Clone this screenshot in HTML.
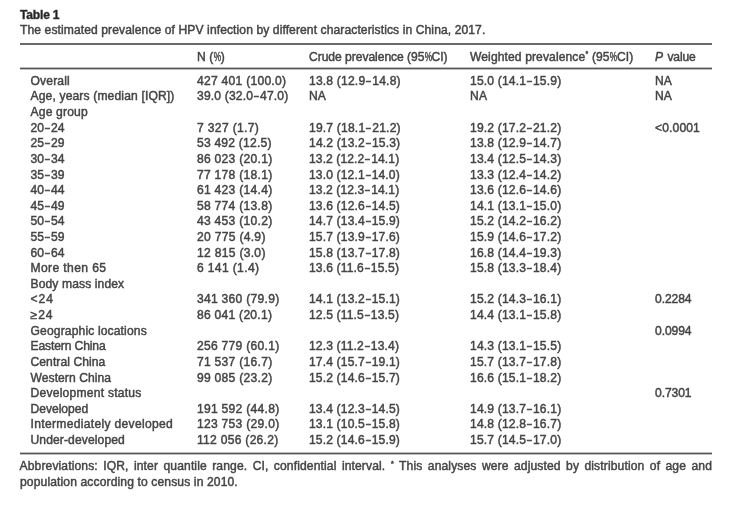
<!DOCTYPE html>
<html><head><meta charset="utf-8"><style>
html,body{margin:0;padding:0;background:#fff;}
body{width:733px;height:507px;position:relative;overflow:hidden;font-family:"Liberation Sans",sans-serif;font-size:12.1px;color:#444444;}
#w{position:absolute;left:0;top:0;width:733px;height:507px;filter:grayscale(1) blur(0.4px);}
.t{position:absolute;white-space:nowrap;line-height:16px;-webkit-text-stroke:0.45px #444444;}
.d{display:inline-block;transform:scaleX(0.72)}
.pc{display:inline-block;transform:scaleX(0.68);margin:0 -1.8px}
.ast{font-size:7px;position:relative;top:-4.5px;margin-left:0.3px}
.r{position:absolute;left:19.5px;width:692.5px;background:#6a6a6a;}
</style></head><body><div id="w">

<div class="t" id="table1" style="left:20px;top:6.91px;letter-spacing:-0.200px;word-spacing:0.000px;font-weight:bold;color:#222;">Table 1</div>
<div class="t" id="caption" style="left:20px;top:22.01px;letter-spacing:0.091px;word-spacing:0.000px;">The estimated prevalence of HPV infection by different characteristics in China, 2017.</div>
<div class="t" id="h1" style="left:197px;top:48.71px;letter-spacing:0.100px;word-spacing:0.000px;">N (<span class="pc">%</span>)</div>
<div class="t" id="h2" style="left:309px;top:48.71px;letter-spacing:-0.043px;word-spacing:0.000px;">Crude prevalence (95<span class="pc">%</span>CI)</div>
<div class="t" id="h3" style="left:470px;top:48.71px;letter-spacing:0.100px;word-spacing:0.000px;">Weighted prevalence<span class="ast">*</span> (95<span class="pc">%</span>CI)</div>
<div class="t" id="h4" style="left:655px;top:48.71px;letter-spacing:-0.120px;word-spacing:1.200px;"><i>P</i> value</div>
<div class="t" id="r0c0" style="left:30.5px;top:72.81px;letter-spacing:0.150px;word-spacing:0.000px;">Overall</div>
<div class="t" id="r0c1" style="left:197px;top:72.81px;letter-spacing:0.257px;word-spacing:0.000px;">427 401 (100.0)</div>
<div class="t" id="r0c2" style="left:309px;top:72.81px;letter-spacing:0.187px;word-spacing:0.000px;">13.8 (12.9<span class="d">–</span>14.8)</div>
<div class="t" id="r0c3" style="left:470px;top:72.81px;letter-spacing:0.160px;word-spacing:0.000px;">15.0 (14.1<span class="d">–</span>15.9)</div>
<div class="t" id="r0c4" style="left:655px;top:72.81px;letter-spacing:0.027px;word-spacing:0.000px;">NA</div>
<div class="t" id="r1c0" style="left:30.5px;top:88.43px;letter-spacing:0.142px;word-spacing:0.000px;">Age, years (median [IQR])</div>
<div class="t" id="r1c1" style="left:197px;top:88.43px;letter-spacing:0.167px;word-spacing:0.000px;">39.0 (32.0<span class="d">–</span>47.0)</div>
<div class="t" id="r1c2" style="left:309px;top:88.43px;letter-spacing:0.141px;word-spacing:0.000px;">NA</div>
<div class="t" id="r1c3" style="left:470px;top:88.43px;letter-spacing:0.160px;word-spacing:0.000px;">NA</div>
<div class="t" id="r1c4" style="left:655px;top:88.43px;letter-spacing:0.027px;word-spacing:0.000px;">NA</div>
<div class="t" id="r2c0" style="left:30.5px;top:104.05px;letter-spacing:0.175px;word-spacing:0.000px;">Age group</div>
<div class="t" id="r3c0" style="left:30.5px;top:119.67px;letter-spacing:0.100px;word-spacing:0.000px;">20<span class="d">–</span>24</div>
<div class="t" id="r3c1" style="left:197px;top:119.67px;letter-spacing:0.340px;word-spacing:0.000px;">7 327 (1.7)</div>
<div class="t" id="r3c2" style="left:309px;top:119.67px;letter-spacing:0.187px;word-spacing:0.000px;">19.7 (18.1<span class="d">–</span>21.2)</div>
<div class="t" id="r3c3" style="left:470px;top:119.67px;letter-spacing:0.160px;word-spacing:0.000px;">19.2 (17.2<span class="d">–</span>21.2)</div>
<div class="t" id="r3c4" style="left:655px;top:119.67px;letter-spacing:0.133px;word-spacing:0.000px;">&lt;0.0001</div>
<div class="t" id="r4c0" style="left:30.5px;top:135.29px;letter-spacing:0.100px;word-spacing:0.000px;">25<span class="d">–</span>29</div>
<div class="t" id="r4c1" style="left:197px;top:135.29px;letter-spacing:0.208px;word-spacing:0.000px;">53 492 (12.5)</div>
<div class="t" id="r4c2" style="left:309px;top:135.29px;letter-spacing:0.153px;word-spacing:0.000px;">14.2 (13.2<span class="d">–</span>15.3)</div>
<div class="t" id="r4c3" style="left:470px;top:135.29px;letter-spacing:0.160px;word-spacing:0.000px;">13.8 (12.9<span class="d">–</span>14.7)</div>
<div class="t" id="r5c0" style="left:30.5px;top:150.91px;letter-spacing:0.100px;word-spacing:0.000px;">30<span class="d">–</span>34</div>
<div class="t" id="r5c1" style="left:197px;top:150.91px;letter-spacing:0.269px;word-spacing:0.000px;">86 023 (20.1)</div>
<div class="t" id="r5c2" style="left:309px;top:150.91px;letter-spacing:0.093px;word-spacing:0.000px;">13.2 (12.2<span class="d">–</span>14.1)</div>
<div class="t" id="r5c3" style="left:470px;top:150.91px;letter-spacing:0.160px;word-spacing:0.000px;">13.4 (12.5<span class="d">–</span>14.3)</div>
<div class="t" id="r6c0" style="left:30.5px;top:166.53px;letter-spacing:0.100px;word-spacing:0.000px;">35<span class="d">–</span>39</div>
<div class="t" id="r6c1" style="left:197px;top:166.53px;letter-spacing:0.269px;word-spacing:0.000px;">77 178 (18.1)</div>
<div class="t" id="r6c2" style="left:309px;top:166.53px;letter-spacing:0.133px;word-spacing:0.000px;">13.0 (12.1<span class="d">–</span>14.0)</div>
<div class="t" id="r6c3" style="left:470px;top:166.53px;letter-spacing:0.160px;word-spacing:0.000px;">13.3 (12.4<span class="d">–</span>14.2)</div>
<div class="t" id="r7c0" style="left:30.5px;top:182.15px;letter-spacing:0.100px;word-spacing:0.000px;">40<span class="d">–</span>44</div>
<div class="t" id="r7c1" style="left:197px;top:182.15px;letter-spacing:0.269px;word-spacing:0.000px;">61 423 (14.4)</div>
<div class="t" id="r7c2" style="left:309px;top:182.15px;letter-spacing:0.093px;word-spacing:0.000px;">13.2 (12.3<span class="d">–</span>14.1)</div>
<div class="t" id="r7c3" style="left:470px;top:182.15px;letter-spacing:0.160px;word-spacing:0.000px;">13.6 (12.6<span class="d">–</span>14.6)</div>
<div class="t" id="r8c0" style="left:30.5px;top:197.77px;letter-spacing:0.100px;word-spacing:0.000px;">45<span class="d">–</span>49</div>
<div class="t" id="r8c1" style="left:197px;top:197.77px;letter-spacing:0.269px;word-spacing:0.000px;">58 774 (13.8)</div>
<div class="t" id="r8c2" style="left:309px;top:197.77px;letter-spacing:0.141px;word-spacing:0.000px;">13.6 (12.6<span class="d">–</span>14.5)</div>
<div class="t" id="r8c3" style="left:470px;top:197.77px;letter-spacing:0.160px;word-spacing:0.000px;">14.1 (13.1<span class="d">–</span>15.0)</div>
<div class="t" id="r9c0" style="left:30.5px;top:213.39px;letter-spacing:0.100px;word-spacing:0.000px;">50<span class="d">–</span>54</div>
<div class="t" id="r9c1" style="left:197px;top:213.39px;letter-spacing:0.269px;word-spacing:0.000px;">43 453 (10.2)</div>
<div class="t" id="r9c2" style="left:309px;top:213.39px;letter-spacing:0.141px;word-spacing:0.000px;">14.7 (13.4<span class="d">–</span>15.9)</div>
<div class="t" id="r9c3" style="left:470px;top:213.39px;letter-spacing:0.160px;word-spacing:0.000px;">15.2 (14.2<span class="d">–</span>16.2)</div>
<div class="t" id="r10c0" style="left:30.5px;top:229.01px;letter-spacing:0.100px;word-spacing:0.000px;">55<span class="d">–</span>59</div>
<div class="t" id="r10c1" style="left:197px;top:229.01px;letter-spacing:0.291px;word-spacing:0.000px;">20 775 (4.9)</div>
<div class="t" id="r10c2" style="left:309px;top:229.01px;letter-spacing:0.141px;word-spacing:0.000px;">15.7 (13.9<span class="d">–</span>17.6)</div>
<div class="t" id="r10c3" style="left:470px;top:229.01px;letter-spacing:0.160px;word-spacing:0.000px;">15.9 (14.6<span class="d">–</span>17.2)</div>
<div class="t" id="r11c0" style="left:30.5px;top:244.63px;letter-spacing:0.100px;word-spacing:0.000px;">60<span class="d">–</span>64</div>
<div class="t" id="r11c1" style="left:197px;top:244.63px;letter-spacing:0.291px;word-spacing:0.000px;">12 815 (3.0)</div>
<div class="t" id="r11c2" style="left:309px;top:244.63px;letter-spacing:0.141px;word-spacing:0.000px;">15.8 (13.7<span class="d">–</span>17.8)</div>
<div class="t" id="r11c3" style="left:470px;top:244.63px;letter-spacing:0.160px;word-spacing:0.000px;">16.8 (14.4<span class="d">–</span>19.3)</div>
<div class="t" id="r12c0" style="left:30.5px;top:260.25px;letter-spacing:0.382px;word-spacing:0.000px;">More then 65</div>
<div class="t" id="r12c1" style="left:197px;top:260.25px;letter-spacing:0.350px;word-spacing:0.000px;">6 141 (1.4)</div>
<div class="t" id="r12c2" style="left:309px;top:260.25px;letter-spacing:0.141px;word-spacing:0.000px;">13.6 (11.6<span class="d">–</span>15.5)</div>
<div class="t" id="r12c3" style="left:470px;top:260.25px;letter-spacing:0.160px;word-spacing:0.000px;">15.8 (13.3<span class="d">–</span>18.4)</div>
<div class="t" id="r13c0" style="left:30.5px;top:275.87px;letter-spacing:0.107px;word-spacing:0.000px;">Body mass index</div>
<div class="t" id="r14c0" style="left:30.5px;top:291.49px;letter-spacing:1.000px;word-spacing:0.000px;">&lt;24</div>
<div class="t" id="r14c1" style="left:197px;top:291.49px;letter-spacing:0.269px;word-spacing:0.000px;">341 360 (79.9)</div>
<div class="t" id="r14c2" style="left:309px;top:291.49px;letter-spacing:0.141px;word-spacing:0.000px;">14.1 (13.2<span class="d">–</span>15.1)</div>
<div class="t" id="r14c3" style="left:470px;top:291.49px;letter-spacing:0.160px;word-spacing:0.000px;">15.2 (14.3<span class="d">–</span>16.1)</div>
<div class="t" id="r14c4" style="left:655px;top:291.49px;letter-spacing:-0.080px;word-spacing:0.000px;">0.2284</div>
<div class="t" id="r15c0" style="left:30.5px;top:307.11px;letter-spacing:1.000px;word-spacing:0.000px;">≥24</div>
<div class="t" id="r15c1" style="left:197px;top:307.11px;letter-spacing:0.250px;word-spacing:0.000px;">86 041 (20.1)</div>
<div class="t" id="r15c2" style="left:309px;top:307.11px;letter-spacing:0.141px;word-spacing:0.000px;">12.5 (11.5<span class="d">–</span>13.5)</div>
<div class="t" id="r15c3" style="left:470px;top:307.11px;letter-spacing:0.160px;word-spacing:0.000px;">14.4 (13.1<span class="d">–</span>15.8)</div>
<div class="t" id="r16c0" style="left:30.5px;top:322.73px;letter-spacing:0.137px;word-spacing:0.000px;">Geographic locations</div>
<div class="t" id="r16c4" style="left:655px;top:322.73px;letter-spacing:-0.080px;word-spacing:0.000px;">0.0994</div>
<div class="t" id="r17c0" style="left:30.5px;top:338.35px;letter-spacing:-0.125px;word-spacing:0.000px;">Eastern China</div>
<div class="t" id="r17c1" style="left:197px;top:338.35px;letter-spacing:0.269px;word-spacing:0.000px;">256 779 (60.1)</div>
<div class="t" id="r17c2" style="left:309px;top:338.35px;letter-spacing:0.141px;word-spacing:0.000px;">12.3 (11.2<span class="d">–</span>13.4)</div>
<div class="t" id="r17c3" style="left:470px;top:338.35px;letter-spacing:0.160px;word-spacing:0.000px;">14.3 (13.1<span class="d">–</span>15.5)</div>
<div class="t" id="r18c0" style="left:30.5px;top:353.97px;letter-spacing:0.067px;word-spacing:0.000px;">Central China</div>
<div class="t" id="r18c1" style="left:197px;top:353.97px;letter-spacing:0.269px;word-spacing:0.000px;">71 537 (16.7)</div>
<div class="t" id="r18c2" style="left:309px;top:353.97px;letter-spacing:0.141px;word-spacing:0.000px;">17.4 (15.7<span class="d">–</span>19.1)</div>
<div class="t" id="r18c3" style="left:470px;top:353.97px;letter-spacing:0.160px;word-spacing:0.000px;">15.7 (13.7<span class="d">–</span>17.8)</div>
<div class="t" id="r19c0" style="left:30.5px;top:369.59px;letter-spacing:0.058px;word-spacing:0.000px;">Western China</div>
<div class="t" id="r19c1" style="left:197px;top:369.59px;letter-spacing:0.269px;word-spacing:0.000px;">99 085 (23.2)</div>
<div class="t" id="r19c2" style="left:309px;top:369.59px;letter-spacing:0.141px;word-spacing:0.000px;">15.2 (14.6<span class="d">–</span>15.7)</div>
<div class="t" id="r19c3" style="left:470px;top:369.59px;letter-spacing:0.160px;word-spacing:0.000px;">16.6 (15.1<span class="d">–</span>18.2)</div>
<div class="t" id="r20c0" style="left:30.5px;top:385.21px;letter-spacing:0.235px;word-spacing:0.000px;">Development status</div>
<div class="t" id="r20c4" style="left:655px;top:385.21px;letter-spacing:-0.080px;word-spacing:0.000px;">0.7301</div>
<div class="t" id="r21c0" style="left:30.5px;top:400.83px;letter-spacing:-0.025px;word-spacing:0.000px;">Developed</div>
<div class="t" id="r21c1" style="left:197px;top:400.83px;letter-spacing:0.269px;word-spacing:0.000px;">191 592 (44.8)</div>
<div class="t" id="r21c2" style="left:309px;top:400.83px;letter-spacing:0.141px;word-spacing:0.000px;">13.4 (12.3<span class="d">–</span>14.5)</div>
<div class="t" id="r21c3" style="left:470px;top:400.83px;letter-spacing:0.160px;word-spacing:0.000px;">14.9 (13.7<span class="d">–</span>16.1)</div>
<div class="t" id="r22c0" style="left:30.5px;top:416.45px;letter-spacing:0.313px;word-spacing:0.000px;">Intermediately developed</div>
<div class="t" id="r22c1" style="left:197px;top:416.45px;letter-spacing:0.269px;word-spacing:0.000px;">123 753 (29.0)</div>
<div class="t" id="r22c2" style="left:309px;top:416.45px;letter-spacing:0.141px;word-spacing:0.000px;">13.1 (10.5<span class="d">–</span>15.8)</div>
<div class="t" id="r22c3" style="left:470px;top:416.45px;letter-spacing:0.160px;word-spacing:0.000px;">14.8 (12.8<span class="d">–</span>16.7)</div>
<div class="t" id="r23c0" style="left:30.5px;top:432.07px;letter-spacing:0.107px;word-spacing:0.000px;">Under-developed</div>
<div class="t" id="r23c1" style="left:197px;top:432.07px;letter-spacing:0.269px;word-spacing:0.000px;">112 056 (26.2)</div>
<div class="t" id="r23c2" style="left:309px;top:432.07px;letter-spacing:0.141px;word-spacing:0.000px;">15.2 (14.6<span class="d">–</span>15.9)</div>
<div class="t" id="r23c3" style="left:470px;top:432.07px;letter-spacing:0.160px;word-spacing:0.000px;">15.7 (14.5<span class="d">–</span>17.0)</div>
<div class="t" id="fn2" style="left:20px;top:473.51px;letter-spacing:0.121px;word-spacing:0.000px;">population according to census in 2010.</div>
<div class="r" style="top:43px;height:2px"></div>
<div class="r" style="top:68px;height:1px;background:#555;box-shadow:0 1px 0 #bdbdbd,0 -1px 0 #bdbdbd"></div>
<div class="r" style="top:453px;height:1px;background:#555;box-shadow:0 1px 0 #bdbdbd,0 -1px 0 #bdbdbd"></div>
<div class="t" id="fn1" style="left:19.5px;width:692.5px;top:458.01px;text-align:justify;text-align-last:justify;white-space:normal;letter-spacing:0.121px">Abbreviations: IQR, inter quantile range. CI, confidential interval. <span class="ast">*</span> This analyses were adjusted by distribution of age and</div>
</div></body></html>
